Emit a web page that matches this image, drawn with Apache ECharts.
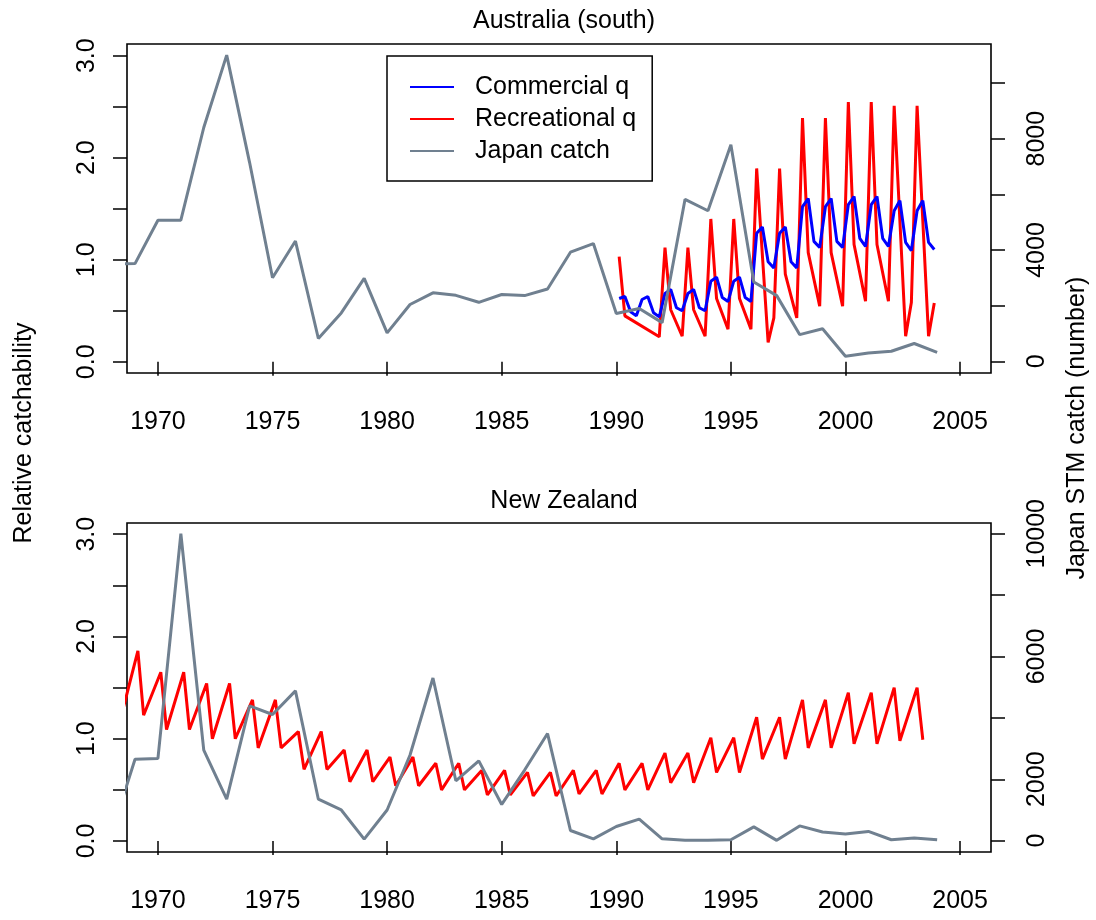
<!DOCTYPE html>
<html>
<head>
<meta charset="utf-8">
<script src="https://cdn.jsdelivr.net/npm/echarts@6/dist/echarts.min.js"></script>
<style>
  html, body { margin: 0; padding: 0; background: #ffffff; }
  #chart { width: 1096px; height: 920px; }
</style>
</head>
<body>
<div id="chart"></div>
<script>
// ---- data -------------------------------------------------------------
const years = [1968, 1969, 1970, 1971, 1972, 1973, 1974, 1975, 1976, 1977,
  1978, 1979, 1980, 1981, 1982, 1983, 1984, 1985, 1986, 1987,
  1988, 1989, 1990, 1991, 1992, 1993, 1994, 1995, 1996, 1997,
  1998, 1999, 2000, 2001, 2002, 2003, 2004];

// Japanese southern bluefin (STM) catch, number of fish
const ausJapanCatch = [3500, 3510, 5070, 5070, 8400, 11000, 7140, 3000, 4320, 820,
  1740, 2980, 1020, 2040, 2460, 2370, 2120, 2400, 2360, 2600,
  3920, 4230, 1720, 1900, 1390, 5820, 5410, 7780, 2850, 2360,
  960, 1170, 180, 300, 360, 640, 320];

const nzJapanCatch = [300, 2650, 2680, 10000, 2950, 1350, 4390, 4110, 4880, 1350,
  1000, 50, 1000, 2790, 5300, 1950, 2600, 1180, 2300, 3490,
  330, 60, 460, 700, 60, 10, 10, 30, 450, 10,
  480, 280, 220, 300, 30, 90, 30];

// Australia (south): commercial catchability by quarter
const ausCommTime = [
  1990.125, 1990.375, 1990.625, 1990.875, 1991.125, 1991.375, 1991.625, 1991.875,
  1992.125, 1992.375, 1992.625, 1992.875, 1993.125, 1993.375, 1993.625, 1993.875,
  1994.125, 1994.375, 1994.625, 1994.875, 1995.125, 1995.375, 1995.625, 1995.875,
  1996.125, 1996.375, 1996.625, 1996.875, 1997.125, 1997.375, 1997.625, 1997.875,
  1998.125, 1998.375, 1998.625, 1998.875, 1999.125, 1999.375, 1999.625, 1999.875,
  2000.125, 2000.375, 2000.625, 2000.875, 2001.125, 2001.375, 2001.625, 2001.875,
  2002.125, 2002.375, 2002.625, 2002.875, 2003.125, 2003.375, 2003.625, 2003.875];
const ausCommQ = [
  0.62, 0.64, 0.49, 0.45, 0.61, 0.64, 0.48, 0.44,
  0.67, 0.71, 0.53, 0.50, 0.67, 0.71, 0.53, 0.50,
  0.79, 0.83, 0.63, 0.59, 0.79, 0.83, 0.63, 0.59,
  1.26, 1.32, 0.98, 0.92, 1.26, 1.32, 0.98, 0.92,
  1.52, 1.60, 1.18, 1.12, 1.52, 1.60, 1.18, 1.12,
  1.54, 1.62, 1.21, 1.13, 1.54, 1.62, 1.21, 1.13,
  1.48, 1.58, 1.17, 1.09, 1.48, 1.58, 1.17, 1.10];

// Australia (south): recreational catchability
const ausRecTime = [
  1990.125, 1990.375, 1991.875,
  1992.125, 1992.375, 1992.875, 1993.125, 1993.375, 1993.875,
  1994.125, 1994.375, 1994.875, 1995.125, 1995.375, 1995.875,
  1996.125, 1996.625, 1996.875, 1997.125, 1997.375, 1997.875,
  1998.125, 1998.375, 1998.875, 1999.125, 1999.375, 1999.875,
  2000.125, 2000.375, 2000.875, 2001.125, 2001.375, 2001.875,
  2002.125, 2002.625, 2002.875, 2003.125, 2003.625, 2003.875];
const ausRecQ = [
  1.03, 0.45, 0.245,
  1.12, 0.51, 0.25, 1.12, 0.51, 0.25,
  1.40, 0.62, 0.32, 1.40, 0.62, 0.32,
  1.895, 0.19, 0.43, 1.895, 0.86, 0.43,
  2.39, 1.07, 0.545, 2.39, 1.07, 0.545,
  2.545, 1.15, 0.594, 2.545, 1.15, 0.594,
  2.51, 0.25, 0.58, 2.51, 0.25, 0.575];

// New Zealand: recreational catchability
const nzRecTime = [
  1968.375,
  1969.125, 1969.375, 1970.125, 1970.375, 1971.125, 1971.375, 1972.125, 1972.375,
  1973.125, 1973.375, 1974.125, 1974.375, 1975.125, 1975.375, 1976.125, 1976.375,
  1977.125, 1977.375, 1978.125, 1978.375, 1979.125, 1979.375, 1980.125, 1980.375,
  1981.125, 1981.375, 1982.125, 1982.375, 1983.125, 1983.375, 1984.125, 1984.375,
  1985.125, 1985.375, 1986.125, 1986.375, 1987.125, 1987.375, 1988.125, 1988.375,
  1989.125, 1989.375, 1990.125, 1990.375, 1991.125, 1991.375, 1992.125, 1992.375,
  1993.125, 1993.375, 1994.125, 1994.375, 1995.125, 1995.375, 1996.125, 1996.375,
  1997.125, 1997.375, 1998.125, 1998.375, 1999.125, 1999.375, 2000.125, 2000.375,
  2001.125, 2001.375, 2002.125, 2002.375, 2003.125, 2003.375];
const nzRecQ = [
  1.20,
  1.86, 1.23, 1.65, 1.09, 1.65, 1.09, 1.54, 1.00,
  1.54, 1.00, 1.38, 0.91, 1.38, 0.91, 1.07, 0.70,
  1.07, 0.70, 0.89, 0.58, 0.89, 0.58, 0.82, 0.54,
  0.82, 0.54, 0.76, 0.50, 0.76, 0.50, 0.69, 0.45,
  0.69, 0.45, 0.67, 0.44, 0.67, 0.44, 0.69, 0.46,
  0.69, 0.46, 0.76, 0.50, 0.76, 0.50, 0.86, 0.57,
  0.86, 0.57, 1.01, 0.67, 1.01, 0.67, 1.21, 0.80,
  1.21, 0.80, 1.38, 0.91, 1.38, 0.91, 1.45, 0.95,
  1.45, 0.95, 1.50, 0.98, 1.50, 0.99];

// axis tick positions and labels
const yearTicks = [1970, 1975, 1980, 1985, 1990, 1995, 2000, 2005];
const qTicks = [0, 0.5, 1, 1.5, 2, 2.5, 3];
const qLabels = [0, 1, 2, 3];
const catchTicks = [0, 2000, 4000, 6000, 8000, 10000];
const ausCatchLabels = [0, 4000, 8000];
const nzCatchLabels = [0, 2000, 6000, 10000];

// ---- chart ------------------------------------------------------------
const FONT = "'Liberation Sans', Arial, Helvetica, sans-serif";
const FS = 25;
const INK = '#000000';
const LW = 3;
const zip = (xs, ys) => xs.map((x, i) => [x, ys[i]]);

const gridBox = { left: 127, width: 864, height: 329, show: true,
  borderColor: INK, borderWidth: 1.6, backgroundColor: 'transparent' };

const plain = v => String(Math.round(v));
const fmtQ = v => Number(v).toFixed(1);

function xAxisFor(gridIndex) {
  return {
    type: 'value', gridIndex, min: 1968.65, max: 2006.35,
    axisLine: { show: false },
    splitLine: { show: false },
    axisTick: { show: true, customValues: yearTicks, length: 14,
      lineStyle: { color: INK, width: 1.5 } },
    axisLabel: { customValues: yearTicks, color: INK, fontFamily: FONT,
      fontSize: FS, margin: 37, formatter: plain }
  };
}

function yAxisFor(gridIndex, position, min, max, ticks, labels, fmt, margin) {
  return {
    type: 'value', gridIndex, position, min, max,
    axisLine: { show: false },
    splitLine: { show: false },
    axisTick: { show: true, customValues: ticks, length: 14,
      lineStyle: { color: INK, width: 1.5 } },
    axisLabel: { customValues: labels, rotate: 90, color: INK,
      fontFamily: FONT, fontSize: FS, margin, formatter: fmt }
  };
}

const lineBase = { type: 'line', symbol: 'none', showSymbol: false,
  clip: true, animation: false, silent: true };

const option = {
  backgroundColor: '#ffffff',
  animation: false,
  textStyle: { fontFamily: FONT, color: INK },
  title: [
    { text: 'Australia (south)', left: 559, top: 4, textAlign: 'center',
      textStyle: { fontFamily: FONT, fontSize: FS, fontWeight: 'normal', color: INK } },
    { text: 'New Zealand', left: 559, top: 484, textAlign: 'center',
      textStyle: { fontFamily: FONT, fontSize: FS, fontWeight: 'normal', color: INK } }
  ],
  legend: {
    data: ['Commercial q', 'Recreational q', 'Japan catch'],
    orient: 'vertical', left: 387, top: 56,
    padding: [15, 16, 14, 22],
    itemGap: 0, itemWidth: 44, itemHeight: 14,
    itemStyle: { opacity: 0 },
    borderColor: INK, borderWidth: 1.5, borderRadius: 0,
    selectedMode: false,
    textStyle: { fontFamily: FONT, fontSize: FS, color: INK,
      lineHeight: 32, padding: [0, 0, 0, 16] }
  },
  grid: [
    Object.assign({ top: 44 }, gridBox),
    Object.assign({ top: 523 }, gridBox)
  ],
  xAxis: [xAxisFor(0), xAxisFor(1)],
  yAxis: [
    yAxisFor(0, 'left', -0.11, 3.115, qTicks, qLabels, fmtQ, 27),
    yAxisFor(0, 'right', -420, 11400, catchTicks, ausCatchLabels, plain, 34),
    yAxisFor(1, 'left', -0.108, 3.11, qTicks, qLabels, fmtQ, 27),
    yAxisFor(1, 'right', -370, 10350, catchTicks, nzCatchLabels, plain, 34)
  ],
  graphic: [
    { type: 'text', x: 24, y: 433, rotation: Math.PI / 2,
      style: { text: 'Relative catchability', fontFamily: FONT, fontSize: FS,
        fill: INK, align: 'center', verticalAlign: 'middle' } },
    { type: 'text', x: 1077, y: 428, rotation: Math.PI / 2,
      style: { text: 'Japan STM catch (number)', fontFamily: FONT, fontSize: FS,
        fill: INK, align: 'center', verticalAlign: 'middle' } }
  ],
  series: [
    Object.assign({}, lineBase, { name: 'Recreational q', xAxisIndex: 0, yAxisIndex: 0,
      data: zip(ausRecTime, ausRecQ), color: '#ff0000',
      lineStyle: { color: '#ff0000', width: LW }, z: 3 }),
    Object.assign({}, lineBase, { name: 'Commercial q', xAxisIndex: 0, yAxisIndex: 0,
      data: zip(ausCommTime, ausCommQ), color: '#0000ff',
      lineStyle: { color: '#0000ff', width: LW }, z: 4 }),
    Object.assign({}, lineBase, { name: 'Japan catch', xAxisIndex: 0, yAxisIndex: 1,
      data: zip(years, ausJapanCatch), color: '#708090',
      lineStyle: { color: '#708090', width: LW }, z: 5 }),
    Object.assign({}, lineBase, { name: 'NZ recreational q', xAxisIndex: 1, yAxisIndex: 2,
      data: zip(nzRecTime, nzRecQ), color: '#ff0000',
      lineStyle: { color: '#ff0000', width: LW }, z: 3 }),
    Object.assign({}, lineBase, { name: 'NZ Japan catch', xAxisIndex: 1, yAxisIndex: 3,
      data: zip(years, nzJapanCatch), color: '#708090',
      lineStyle: { color: '#708090', width: LW }, z: 5 })
  ]
};

const chart = echarts.init(document.getElementById('chart'), null, { renderer: 'canvas' });
chart.setOption(option);
</script>
</body>
</html>
